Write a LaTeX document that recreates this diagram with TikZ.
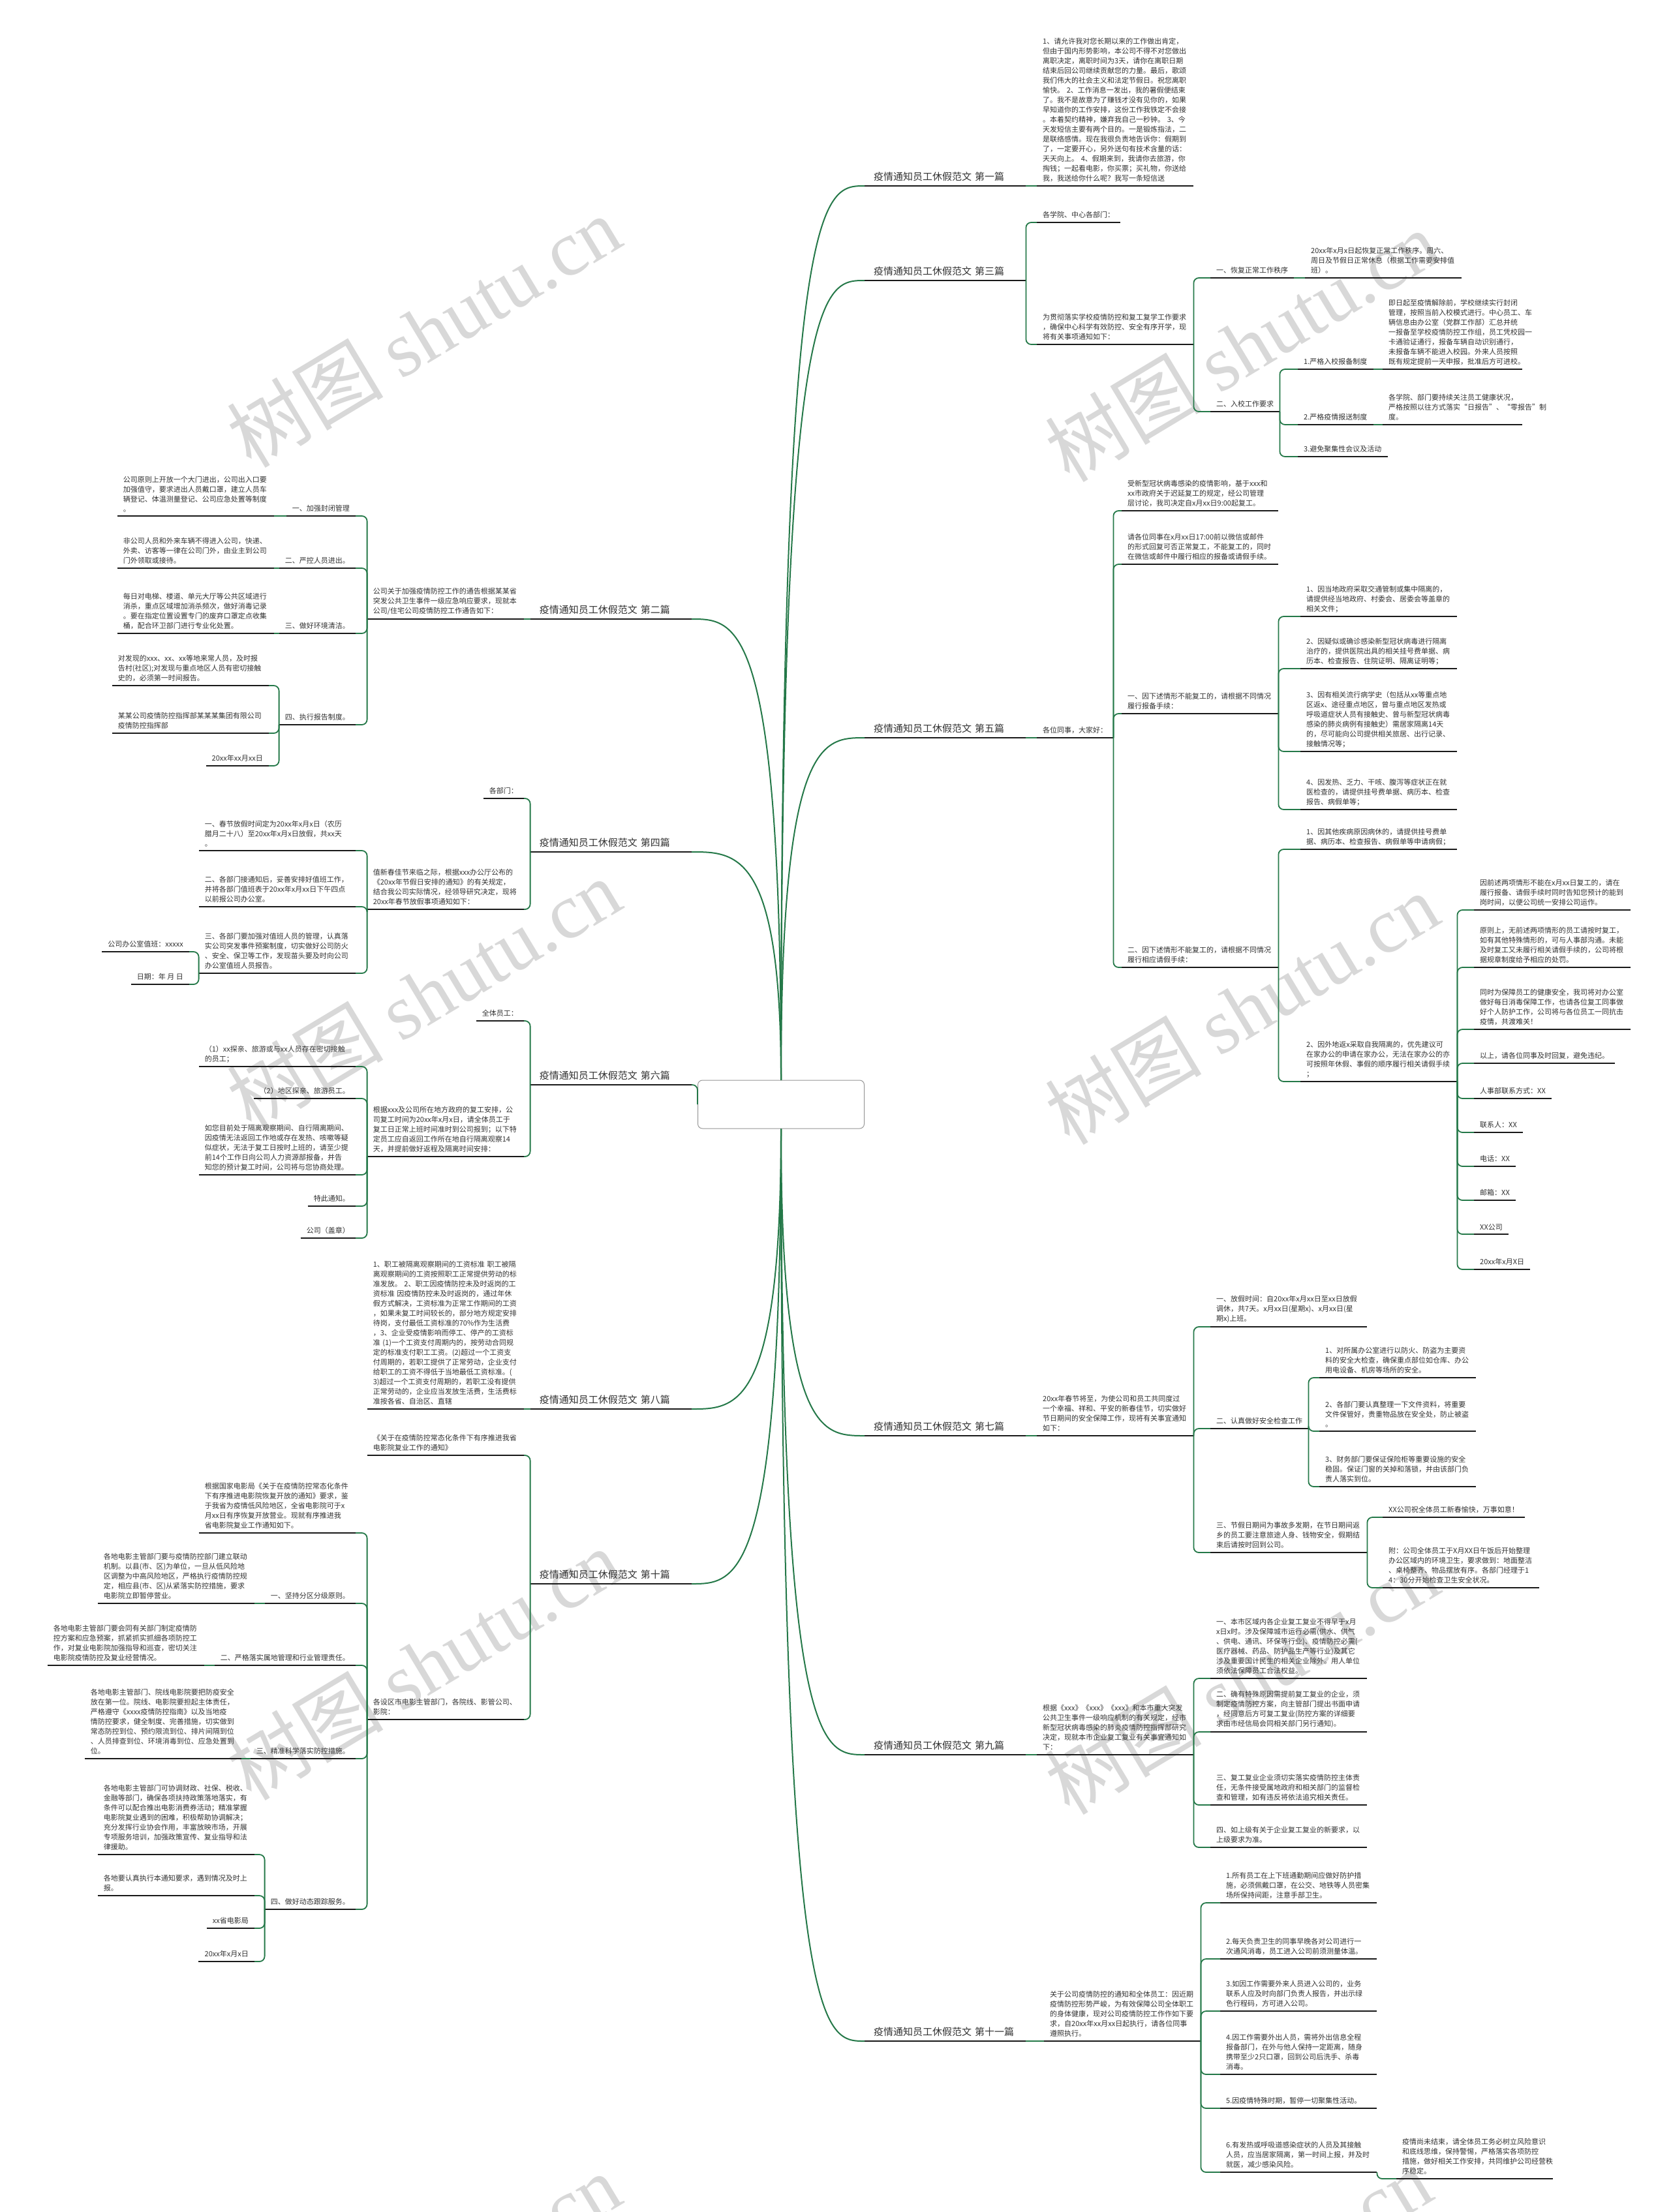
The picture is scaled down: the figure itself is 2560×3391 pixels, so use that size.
\documentclass[tikz,border=0pt]{standalone}
\usepackage{fontspec}
\setmainfont{Noto Sans CJK SC}
\newfontfamily\markfont{Liberation Serif}
\usepackage{tikz}
\usetikzlibrary{positioning,calc}
\usepackage{xcolor}
\definecolor{TreeGreen}{RGB}{36,120,72}
\definecolor{InkGray}{RGB}{50,50,50}
\definecolor{RuleBlack}{RGB}{25,25,25}
\definecolor{MarkGray}{RGB}{216,216,216}
\definecolor{HubBorder}{RGB}{150,150,150}

\begin{document}
\begin{tikzpicture}[x=1pt, y=-1pt,
    every node/.style={text=InkGray},
    rule/.style={draw=RuleBlack, line width=2.4pt},
    note/.style={font=\fontsize{11}{15}\selectfont, align=left, inner xsep=9pt, inner ysep=6pt,
      append after command={\pgfextra{\let\basenode=\tikzlastnode}
        (\basenode.south west) edge[rule] (\basenode.south east)}},
    rnote/.style={note, anchor=south west},
    lnote/.style={note, anchor=south east},
    para/.style={text width=222pt},
    topic/.style={font=\fontsize{15}{18}\selectfont, text width=219pt, inner xsep=14pt, inner ysep=7pt, align=left,
      append after command={\pgfextra{\let\basenode=\tikzlastnode}
        (\basenode.south west) edge[rule] (\basenode.south east)}},
    rtopic/.style={topic, anchor=south west},
    ltopic/.style={topic, anchor=south east},
    link/.style={draw=TreeGreen, line width=1.8pt, rounded corners=8pt, to path={(\tikztostart) |- (\tikztotarget)}},
    flat/.style={draw=TreeGreen, line width=1.8pt},
    branch/.style={draw=TreeGreen, line width=2pt,
      to path={(\tikztostart) .. controls (\tikztostart |- \tikztotarget) and ($(\tikztostart |- \tikztotarget)!0.5!(\tikztotarget)$) .. (\tikztotarget)}},
    wmark/.style={font=\fontsize{120}{120}\selectfont, text=MarkGray, rotate=31}
  ]
  \fill[white] (0,0) rectangle (2560,3391);
  \useasboundingbox (0,0) rectangle (2560,3391);

  % watermarks
  \foreach \wx/\wy in {649/508, 1903/530, 649/1524, 1903/1546, 649/2551, 1903/2573, 649/3509, 1892/3503}
    \node[wmark] at (\wx,\wy) {树图 {\markfont shutu.cn}};

  % hub
  \node[draw=HubBorder, fill=white, rounded corners=7pt, line width=1pt, minimum width=255pt, minimum height=74pt] (hub) at (1197,1693) {};

  % ---------------- right side ----------------
  \node[rtopic] (t1) at (1325,285) {疫情通知员工休假范文 第一篇};
  \node[rnote, para] (n1) at (1589,285) {1、请允许我对您长期以来的工作做出肯定，\\但由于国内形势影响，本公司不得不对您做出\\离职决定，离职时间为3天，请你在离职日期\\结束后回公司继续贡献您的力量。最后，歌颂\\我们伟大的社会主义和法定节假日。祝您离职\\愉快。 2、工作消息一发出，我的暑假便结束\\了。我不是故意为了赚钱才没有见你的，如果\\早知道你的工作安排，这份工作我铁定不会接\\。本着契约精神，嫌弃我自己一秒钟。 3、今\\天发短信主要有两个目的。一是锻炼指法，二\\是联络感情。现在我很负责地告诉你：假期到\\了，一定要开心，另外送句有技术含量的话：\\天天向上。 4、假期来到，我请你去旅游，你\\掏钱；一起看电影，你买票；买礼物，你送给\\我，我送给你什么呢？我写一条短信送};

  \node[rtopic] (t3) at (1325,430) {疫情通知员工休假范文 第三篇};
  \node[rnote] (n3a) at (1589,341) {各学院、中心各部门：};
  \node[rnote, para] (n3b) at (1589,528) {为贯彻落实学校疫情防控和复工复学工作要求\\，确保中心科学有效防控、安全有序开学，现\\将有关事项通知如下：};
  \node[rnote] (n3c) at (1855,426) {一、恢复正常工作秩序};
  \node[rnote, para] (n3c1) at (2000,426) {20xx年x月x日起恢复正常工作秩序。周六、\\周日及节假日正常休息（根据工作需要安排值\\班）。};
  \node[rnote] (n3d) at (1855,631) {二、入校工作要求};
  \node[rnote] (n3d1) at (1989,566) {1.严格入校报备制度};
  \node[rnote, text width=196pt] (n3d1a) at (2119,566) {即日起至疫情解除前，学校继续实行封闭\\管理，按照当前入校模式进行。中心员工、车\\辆信息由办公室（党群工作部）汇总并统\\一报备至学校疫情防控工作组，员工凭校园一\\卡通验证通行，报备车辆自动识别通行，\\未报备车辆不能进入校园。外来人员按照\\既有规定提前一天申报，批准后方可进校。};
  \node[rnote] (n3d2) at (1989,651) {2.严格疫情报送制度};
  \node[rnote, text width=196pt] (n3d2a) at (2119,651) {各学院、部门要持续关注员工健康状况，\\严格按照以往方式落实“日报告”、“零报告”制\\度。};
  \node[rnote] (n3d3) at (1989,700) {3.避免聚集性会议及活动};

  \node[rtopic] (t5) at (1325,1131) {疫情通知员工休假范文 第五篇};
  \node[rnote] (n5) at (1589,1131) {各位同事，大家好：};
  \node[rnote, para] (n5a) at (1719,783) {受新型冠状病毒感染的疫情影响，基于xxx和\\xx市政府关于迟延复工的规定，经公司管理\\层讨论，我司决定自x月xx日9:00起复工。};
  \node[rnote, para] (n5b) at (1719,865) {请各位同事在x月xx日17:00前以微信或邮件\\的形式回复可否正常复工，不能复工的，同时\\在微信或邮件中履行相应的报备或请假手续。};
  \node[rnote, para] (n5c) at (1719,1094) {一、因下述情形不能复工的，请根据不同情况\\履行报备手续：};
  \node[rnote, para] (n5c1) at (1993,945) {1、因当地政府采取交通管制或集中隔离的，\\请提供经当地政府、村委会、居委会等盖章的\\相关文件；};
  \node[rnote, para] (n5c2) at (1993,1025) {2、因疑似或确诊感染新型冠状病毒进行隔离\\治疗的，提供医院出具的相关挂号费单据、病\\历本、检查报告、住院证明、隔离证明等；};
  \node[rnote, para] (n5c3) at (1993,1152) {3、因有相关流行病学史（包括从xx等重点地\\区返x、途径重点地区，曾与重点地区发热或\\呼吸道症状人员有接触史、曾与新型冠状病毒\\感染的肺炎病例有接触史）需居家隔离14天\\的，尽可能向公司提供相关旅居、出行记录、\\接触情况等；};
  \node[rnote, para] (n5c4) at (1993,1241) {4、因发热、乏力、干咳、腹泻等症状正在就\\医检查的，请提供挂号费单据、病历本、检查\\报告、病假单等；};
  \node[rnote, para] (n5d) at (1719,1483) {二、因下述情形不能复工的，请根据不同情况\\履行相应请假手续：};
  \node[rnote, para] (n5d1) at (1993,1302) {1、因其他疾病原因病休的，请提供挂号费单\\据、病历本、检查报告、病假单等申请病假；};
  \node[rnote, para] (n5d2) at (1993,1658) {2、因外地返x采取自我隔离的，优先建议可\\在家办公的申请在家办公，无法在家办公的亦\\可按照年休假、事假的顺序履行相关请假手续\\；};
  \node[rnote, para] (n5e1) at (2259,1395) {因前述两项情形不能在x月xx日复工的，请在\\履行报备、请假手续时同时告知您预计的能到\\岗时间，以便公司统一安排公司运作。};
  \node[rnote, para] (n5e2) at (2259,1483) {原则上，无前述两项情形的员工请按时复工，\\如有其他特殊情形的，可与人事部沟通。未能\\及时复工又未履行相关请假手续的，公司将根\\据规章制度给予相应的处罚。};
  \node[rnote, para] (n5e3) at (2259,1578) {同时为保障员工的健康安全，我司将对办公室\\做好每日消毒保障工作，也请各位复工同事做\\好个人防护工作，公司将与各位员工一同抗击\\疫情，共渡难关！};
  \node[rnote] (n5e4) at (2259,1630) {以上，请各位同事及时回复，避免违纪。};
  \node[rnote] (n5e5) at (2259,1684) {人事部联系方式：XX};
  \node[rnote] (n5e6) at (2259,1736) {联系人：XX};
  \node[rnote] (n5e7) at (2259,1788) {电话：XX};
  \node[rnote] (n5e8) at (2259,1840) {邮箱：XX};
  \node[rnote] (n5e9) at (2259,1892) {XX公司};
  \node[rnote] (n5e10) at (2259,1946) {20xx年x月X日};

  \node[rtopic] (t7) at (1325,2201) {疫情通知员工休假范文 第七篇};
  \node[rnote, para] (n7) at (1589,2201) {20xx年春节将至，为使公司和员工共同度过\\一个幸福、祥和、平安的新春佳节，切实做好\\节日期间的安全保障工作，现将有关事宜通知\\如下：};
  \node[rnote, para] (n7a) at (1855,2034) {一、放假时间：自20xx年x月xx日至xx日放假\\调休，共7天。x月xx日(星期x)、x月xx日(星\\期x)上班。};
  \node[rnote] (n7b) at (1855,2190) {二、认真做好安全检查工作};
  \node[rnote, para] (n7b1) at (2022,2112) {1、对所属办公室进行以防火、防盗为主要资\\料的安全大检查，确保重点部位如仓库、办公\\用电设备、机房等场所的安全。};
  \node[rnote, para] (n7b2) at (2022,2194) {2、各部门要认真整理一下文件资料，将重要\\文件保管好，贵重物品放在安全处，防止被盗\\。};
  \node[rnote, para] (n7b3) at (2022,2279) {3、财务部门要保证保险柜等重要设施的安全\\稳固。保证门窗的关掉和落锁，并由该部门负\\责人落实到位。};
  \node[rnote, para] (n7c) at (1855,2380) {三、节假日期间为事故多发期，在节日期间返\\乡的员工要注意旅途人身、钱物安全，假期结\\束后请按时回到公司。};
  \node[rnote] (n7c1) at (2119,2326) {XX公司祝全体员工新春愉快，万事如意！};
  \node[rnote, para] (n7c2) at (2119,2434) {附：公司全体员工于X月XX日午饭后开始整理\\办公区域内的环境卫生，要求做到：地面整洁\\、桌椅整齐、物品摆放有序。各部门经理于1\\4：30分开始检查卫生安全状况。};

  \node[rtopic] (t9) at (1325,2690) {疫情通知员工休假范文 第九篇};
  \node[rnote, para] (n9) at (1589,2690) {根据《xxx》《xxx》《xxx》和本市重大突发\\公共卫生事件一级响应机制的有关规定，经市\\新型冠状病毒感染的肺炎疫情防控指挥部研究\\决定，现就本市企业复工复业有关事宜通知如\\下：};
  \node[rnote, para] (n9a) at (1855,2573) {一、本市区域内各企业复工复业不得早于x月\\x日x时。涉及保障城市运行必需(供水、供气\\、供电、通讯、环保等行业)、疫情防控必需(\\医疗器械、药品、防护品生产等行业)及其它\\涉及重要国计民生的相关企业除外。用人单位\\须依法保障员工合法权益。};
  \node[rnote, para] (n9b) at (1855,2655) {二、确有特殊原因需提前复工复业的企业，须\\制定疫情防控方案，向主管部门提出书面申请\\，经同意后方可复工复业(防控方案的详细要\\求由市经信局会同相关部门另行通知)。};
  \node[rnote, para] (n9c) at (1855,2767) {三、复工复业企业须切实落实疫情防控主体责\\任，无条件接受属地政府和相关部门的监督检\\查和管理，如有违反将依法追究相关责任。};
  \node[rnote, para] (n9d) at (1855,2832) {四、如上级有关于企业复工复业的新要求，以\\上级要求为准。};

  \node[rtopic] (t11) at (1325,3129) {疫情通知员工休假范文 第十一篇};
  \node[rnote, para] (n11) at (1600,3129) {关于公司疫情防控的通知和全体员工：因近期\\疫情防控形势严峻，为有效保障公司全体职工\\的身体健康，现对公司疫情防控工作作如下要\\求，自20xx年xx月xx日起执行，请各位同事\\遵照执行。};
  \node[rnote, para] (n11a) at (1870,2917) {1.所有员工在上下班通勤期间应做好防护措\\施，必须佩戴口罩，在公交、地铁等人员密集\\场所保持间距，注意手部卫生。};
  \node[rnote, para] (n11b) at (1870,3003) {2.每天负责卫生的同事早晚各对公司进行一\\次通风消毒，员工进入公司前须测量体温。};
  \node[rnote, para] (n11c) at (1870,3083) {3.如因工作需要外来人员进入公司的，业务\\联系人应及时向部门负责人报告，并出示绿\\色行程码，方可进入公司。};
  \node[rnote, para] (n11d) at (1870,3180) {4.因工作需要外出人员，需将外出信息全程\\报备部门，在外与他人保持一定距离，随身\\携带至少2只口罩，回到公司后洗手、杀毒\\消毒。};
  \node[rnote, para] (n11e) at (1870,3232) {5.因疫情特殊时期，暂停一切聚集性活动。};
  \node[rnote, para] (n11f) at (1870,3330) {6.有发热或呼吸道感染症状的人员及其接触\\人员，应当居家隔离，第一时间上报，并及时\\就医，减少感染风险。};
  \node[rnote, para] (n11g) at (2140,3340) {疫情尚未结束，请全体员工务必树立风险意识\\和底线思维，保持警惕，严格落实各项防控\\措施，做好相关工作安排，共同维护公司经营秩\\序稳定。};

  % ---------------- left side ----------------
  \node[ltopic] (t2) at (1060,949) {疫情通知员工休假范文 第二篇};
  \node[lnote, para] (n2) at (803,949) {公司关于加强疫情防控工作的通告根据某某省\\突发公共卫生事件一级应急响应要求，现就本\\公司/住宅公司疫情防控工作通告如下：};
  \node[lnote] (n2a) at (545,791) {一、加强封闭管理};
  \node[lnote, para] (n2a1) at (420,791) {公司原则上开放一个大门进出，公司出入口要\\加强值守，要求进出人员戴口罩，建立人员车\\辆登记、体温测量登记、公司应急处置等制度\\。};
  \node[lnote] (n2b) at (545,871) {二、严控人员进出。};
  \node[lnote, para] (n2b1) at (420,871) {非公司人员和外来车辆不得进入公司，快递、\\外卖、访客等一律在公司门外，由业主到公司\\门外领取或接待。};
  \node[lnote] (n2c) at (545,971) {三、做好环境清洁。};
  \node[lnote, para] (n2c1) at (420,971) {每日对电梯、楼道、单元大厅等公共区域进行\\消杀，重点区域增加消杀频次，做好消毒记录\\。要在指定位置设置专门的废弃口罩定点收集\\桶，配合环卫部门进行专业化处置。};
  \node[lnote] (n2d) at (545,1111) {四、执行报告制度。};
  \node[lnote, para] (n2d1) at (412,1051) {对发现的xxx、xx、xx等地来常人员，及时报\\告村(社区);对发现与重点地区人员有密切接触\\史的，必须第一时间报告。};
  \node[lnote, para] (n2d2) at (412,1124) {某某公司疫情防控指挥部某某某集团有限公司\\疫情防控指挥部};
  \node[lnote] (n2d3) at (412,1174) {20xx年xx月xx日};

  \node[ltopic] (t4) at (1060,1306) {疫情通知员工休假范文 第四篇};
  \node[lnote] (n4a) at (803,1224) {各部门：};
  \node[lnote, para] (n4b) at (803,1394) {值新春佳节来临之际，根据xxx办公厅公布的\\《20xx年节假日安排的通知》的有关规定，\\结合我公司实际情况，经领导研究决定，现将\\20xx年春节放假事项通知如下：};
  \node[lnote, para] (n4b1) at (545,1304) {一、春节放假时间定为20xx年x月x日（农历\\腊月二十八）至20xx年x月x日放假，共xx天\\。};
  \node[lnote, para] (n4b2) at (545,1390) {二、各部门接通知后，妥善安排好值班工作，\\并将各部门值班表于20xx年x月xx日下午四点\\以前报公司办公室。};
  \node[lnote, para] (n4b3) at (545,1492) {三、各部门要加强对值班人员的管理，认真落\\实公司突发事件预案制度，切实做好公司防火\\、安全、保卫等工作，发现苗头要及时向公司\\办公室值班人员报告。};
  \node[lnote] (n4b3a) at (290,1459) {公司办公室值班：xxxxx};
  \node[lnote] (n4b3b) at (290,1509) {日期：年 月 日};

  \node[ltopic] (t6) at (1060,1663) {疫情通知员工休假范文 第六篇};
  \node[lnote] (n6a) at (803,1565) {全体员工：};
  \node[lnote, para] (n6b) at (803,1773) {根据xxx及公司所在地方政府的复工安排，公\\司复工时间为20xx年x月x日，请全体员工于\\复工日正常上班时间准时到公司报到；以下特\\定员工应自返回工作所在地自行隔离观察14\\天，并提前做好返程及隔离时间安排：};
  \node[lnote, para] (n6b1) at (545,1635) {（1）xx探亲、旅游或与xx人员存在密切接触\\的员工；};
  \node[lnote] (n6b2) at (545,1684) {（2）地区探亲、旅游员工。};
  \node[lnote, para] (n6b3) at (545,1801) {如您目前处于隔离观察期间、自行隔离期间、\\因疫情无法返回工作地或存在发热、咳嗽等疑\\似症状，无法于复工日按时上班的，请至少提\\前14个工作日向公司人力资源部报备，并告\\知您的预计复工时间，公司将与您协商处理。};
  \node[lnote] (n6b4) at (545,1849) {特此通知。};
  \node[lnote] (n6b5) at (545,1898) {公司（盖章）};

  \node[ltopic] (t8) at (1060,2160) {疫情通知员工休假范文 第八篇};
  \node[lnote, para] (n8) at (803,2160) {1、职工被隔离观察期间的工资标准 职工被隔\\离观察期间的工资按照职工正常提供劳动的标\\准发放。 2、职工因疫情防控未及时返岗的工\\资标准 因疫情防控未及时返岗的，通过年休\\假方式解决，工资标准为正常工作期间的工资\\，如果未复工时间较长的，部分地方规定安排\\待岗，支付最低工资标准的70\%作为生活费\\，3、企业受疫情影响而停工、停产的工资标\\准 (1)一个工资支付周期内的，按劳动合同规\\定的标准支付职工工资。(2)超过一个工资支\\付周期的，若职工提供了正常劳动，企业支付\\给职工的工资不得低于当地最低工资标准。(\\3)超过一个工资支付周期的，若职工没有提供\\正常劳动的，企业应当发放生活费，生活费标\\准按各省、自治区、直辖};

  \node[ltopic] (t10) at (1060,2428) {疫情通知员工休假范文 第十篇};
  \node[lnote, para] (n10a) at (803,2231) {《关于在疫情防控常态化条件下有序推进我省\\电影院复业工作的通知》};
  \node[lnote, para] (n10b) at (803,2636) {各设区市电影主管部门，各院线、影管公司、\\影院：};
  \node[lnote, para] (n10b1) at (545,2350) {根据国家电影局《关于在疫情防控常态化条件\\下有序推进电影院恢复开放的通知》要求，鉴\\于我省为疫情低风险地区，全省电影院可于x\\月xx日有序恢复开放营业。现就有序推进我\\省电影院复业工作通知如下。};
  \node[lnote] (n10b2) at (545,2458) {一、坚持分区分级原则。};
  \node[lnote, para] (n10b2a) at (390,2458) {各地电影主管部门要与疫情防控部门建立联动\\机制。以县(市、区)为单位，一旦从低风险地\\区调整为中高风险地区，严格执行疫情防控规\\定，相应县(市、区)从紧落实防控措施，要求\\电影院立即暂停营业。};
  \node[lnote] (n10b3) at (545,2553) {二、严格落实属地管理和行业管理责任。};
  \node[lnote, para] (n10b3a) at (313,2553) {各地电影主管部门要会同有关部门制定疫情防\\控方案和应急预案，抓紧抓实抓细各项防控工\\作，对复业电影院加强指导和巡查，密切关注\\电影院疫情防控及复业经营情况。};
  \node[lnote] (n10b4) at (545,2696) {三、精准科学落实防控措施。};
  \node[lnote, para] (n10b4a) at (370,2696) {各地电影主管部门、院线电影院要把防疫安全\\放在第一位。院线、电影院要担起主体责任，\\严格遵守《xxxx疫情防控指南》以及当地疫\\情防控要求，健全制度、完善措施，切实做到\\常态防控到位、预约限流到位、排片间隔到位\\、人员排查到位、环境消毒到位、应急处置到\\位。};
  \node[lnote] (n10b5) at (545,2927) {四、做好动态跟踪服务。};
  \node[lnote, para] (n10b5a) at (390,2843) {各地电影主管部门可协调财政、社保、税收、\\金融等部门，确保各项扶持政策落地落实，有\\条件可以配合推出电影消费券活动；精准掌握\\电影院复业遇到的困难，积极帮助协调解决；\\充分发挥行业协会作用，丰富放映市场，开展\\专项服务培训，加强政策宣传、复业指导和法\\律援助。};
  \node[lnote, para] (n10b5b) at (390,2906) {各地要认真执行本通知要求，遇到情况及时上\\报。};
  \node[lnote] (n10b5c) at (390,2956) {xx省电影局};
  \node[lnote] (n10b5d) at (390,3007) {20xx年x月x日};

  % ---------------- main branches ----------------
  \foreach \t in {t1,t3,t5}
    \draw[branch] (hub.north) to (\t.south west);
  \foreach \t in {t7,t9,t11}
    \draw[branch] (hub.south) to (\t.south west);
  \foreach \t in {t2,t4}
    \draw[branch] (hub.north) to (\t.south east);
  \foreach \t in {t8,t10}
    \draw[branch] (hub.south) to (\t.south east);
  \draw[link] (hub.west) to (t6.south east);

  % ---------------- connectors, right ----------------
  \draw[flat] (t1.south east) -- (n1.south west);
  \foreach \c in {n3a,n3b}
    \draw[link] (t3.south east) to (\c.south west);
  \foreach \c in {n3c,n3d}
    \draw[link] (n3b.south east) to (\c.south west);
  \draw[flat] (n3c.south east) -- (n3c1.south west);
  \foreach \c in {n3d1,n3d2,n3d3}
    \draw[link] (n3d.south east) to (\c.south west);
  \draw[flat] (n3d1.south east) -- (n3d1a.south west);
  \draw[flat] (n3d2.south east) -- (n3d2a.south west);

  \draw[flat] (t5.south east) -- (n5.south west);
  \foreach \c in {n5a,n5b,n5c,n5d}
    \draw[link] (n5.south east) to (\c.south west);
  \foreach \c in {n5c1,n5c2,n5c3,n5c4}
    \draw[link] (n5c.south east) to (\c.south west);
  \foreach \c in {n5d1,n5d2}
    \draw[link] (n5d.south east) to (\c.south west);
  \foreach \c in {n5e1,n5e2,n5e3,n5e4,n5e5,n5e6,n5e7,n5e8,n5e9,n5e10}
    \draw[link] (n5d2.south east) to (\c.south west);

  \draw[flat] (t7.south east) -- (n7.south west);
  \foreach \c in {n7a,n7b,n7c}
    \draw[link] (n7.south east) to (\c.south west);
  \foreach \c in {n7b1,n7b2,n7b3}
    \draw[link] (n7b.south east) to (\c.south west);
  \foreach \c in {n7c1,n7c2}
    \draw[link] (n7c.south east) to (\c.south west);

  \draw[flat] (t9.south east) -- (n9.south west);
  \foreach \c in {n9a,n9b,n9c,n9d}
    \draw[link] (n9.south east) to (\c.south west);

  \draw[flat] (t11.south east) -- (n11.south west);
  \foreach \c in {n11a,n11b,n11c,n11d,n11e,n11f}
    \draw[link] (n11.south east) to (\c.south west);
  \draw[link] (n11f.south east) to (n11g.south west);

  % ---------------- connectors, left ----------------
  \draw[flat] (t2.south west) -- (n2.south east);
  \foreach \c in {n2a,n2b,n2c,n2d}
    \draw[link] (n2.south west) to (\c.south east);
  \draw[flat] (n2a.south west) -- (n2a1.south east);
  \draw[flat] (n2b.south west) -- (n2b1.south east);
  \draw[flat] (n2c.south west) -- (n2c1.south east);
  \foreach \c in {n2d1,n2d2,n2d3}
    \draw[link] (n2d.south west) to (\c.south east);

  \foreach \c in {n4a,n4b}
    \draw[link] (t4.south west) to (\c.south east);
  \foreach \c in {n4b1,n4b2,n4b3}
    \draw[link] (n4b.south west) to (\c.south east);
  \foreach \c in {n4b3a,n4b3b}
    \draw[link] (n4b3.south west) to (\c.south east);

  \foreach \c in {n6a,n6b}
    \draw[link] (t6.south west) to (\c.south east);
  \foreach \c in {n6b1,n6b2,n6b3,n6b4,n6b5}
    \draw[link] (n6b.south west) to (\c.south east);

  \draw[flat] (t8.south west) -- (n8.south east);

  \foreach \c in {n10a,n10b}
    \draw[link] (t10.south west) to (\c.south east);
  \foreach \c in {n10b1,n10b2,n10b3,n10b4,n10b5}
    \draw[link] (n10b.south west) to (\c.south east);
  \draw[flat] (n10b2.south west) -- (n10b2a.south east);
  \draw[flat] (n10b3.south west) -- (n10b3a.south east);
  \draw[flat] (n10b4.south west) -- (n10b4a.south east);
  \foreach \c in {n10b5a,n10b5b,n10b5c,n10b5d}
    \draw[link] (n10b5.south west) to (\c.south east);
\end{tikzpicture}
\end{document}
